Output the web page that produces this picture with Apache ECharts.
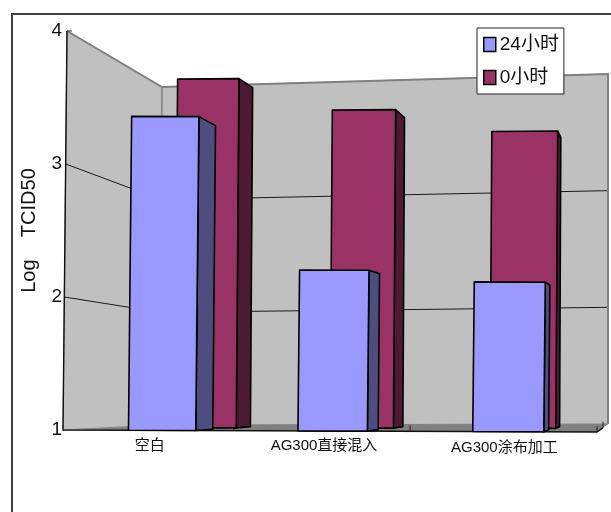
<!DOCTYPE html>
<html>
<head>
<meta charset="utf-8">
<style>html,body{margin:0;padding:0;background:#fff}#c{width:611px;height:512px}</style>
<script src="https://cdn.jsdelivr.net/npm/echarts@6/dist/echarts.min.js"></script>
</head>
<body>
<div id="c"></div>
<script>
// ---- data ----
const categories = ['空白', 'AG300直接混入', 'AG300涂布加工'];
const valueTicks = [1, 2, 3, 4];
const seriesNames = ['24小时', '0小时'];
const values24h = [3.36, 2.21, 2.125];
const values0h = [3.81, 3.55, 3.37];

// ---- layout of the 3D box (pixel corners of the front plane and back wall) ----
const FLT = [67, 31], FLB = [63, 430], FRT = [601, 33], FRB = [597, 432];
const BLT = [162, 87], BLB = [160, 425], BRT = [608, 74], BRB = [608, 424];
const BLUE_LAYOUT = { shift: [0.019, 0.005, 0.0005], width: [0.126, 0.13, 0.133], z0: 0, z1: [0.225, 0.225, 0.25] };
const RED_LAYOUT = { shift: [0.033, 0.015, 0.007], width: [0.124, 0.128, 0.133], z0: 0.45, z1: [0.64, 0.65, 0.65] };
const FONT = '"Liberation Sans","Noto Sans CJK SC",sans-serif';

const lerp = (a, b, t) => [a[0] + (b[0] - a[0]) * t, a[1] + (b[1] - a[1]) * t];
function P(u, w, z) {
  const front = lerp(lerp(FLB, FRB, u), lerp(FLT, FRT, u), w);
  const back = lerp(lerp(BLB, BRB, u), lerp(BLT, BRT, u), w);
  return lerp(front, back, z);
}
function barRender(layout, color, sideColor) {
  return function (params, api) {
    const cs = api.coordSys ? api.coordSys() : params.coordSys;
    const i = api.value(0);
    const top = api.coord([i, api.value(1)]);
    const base = api.coord([i, valueTicks[0]]);
    const uc = (top[0] - cs.x) / cs.width + layout.shift[i];
    const hw = layout.width[i] / 2;
    const wt = (cs.y + cs.height - top[1]) / cs.height;
    const wb = (cs.y + cs.height - base[1]) / cs.height;
    const u0 = uc - hw, u1 = uc + hw, z0 = layout.z0, z1 = layout.z1[i];
    const edge = { stroke: '#000', lineWidth: 1.6, lineJoin: 'round' };
    return {
      type: 'group',
      children: [
        { type: 'polygon', shape: { points: [P(u1, wt, z0), P(u1, wt, z1), P(u1, wb, z1), P(u1, wb, z0)] },
          style: Object.assign({ fill: sideColor }, edge) },
        { type: 'polygon', shape: { points: [P(u0, wt, z0), P(u1, wt, z0), P(u1, wb, z0), P(u0, wb, z0)] },
          style: Object.assign({ fill: color }, edge) }
      ]
    };
  };
}
function wallRender(params, api) {
  const cs = api.coordSys ? api.coordSys() : params.coordSys;
  const kids = [];
  const wall = { fill: '#c0c0c0', stroke: '#808080', lineWidth: 1 };
  kids.push({ type: 'polygon', shape: { points: [P(0, 1, 0), P(0, 1, 1), P(0, 0, 1), P(0, 0, 0)] }, style: wall });
  kids.push({ type: 'polygon', shape: { points: [P(0, 1, 1), P(1, 1, 1), P(1, 0, 1), P(0, 0, 1)] }, style: wall });
  kids.push({ type: 'polygon', shape: { points: [P(0, 0, 0), P(0, 0, 1), P(1, 0, 1), P(1, 0, 0)] }, style: { fill: '#808080' } });
  valueTicks.forEach(function (t) {
    const c = api.coord([0, t]);
    const w = (cs.y + cs.height - c[1]) / cs.height;
    if (w > 0 && w < 1) {
      kids.push({ type: 'polyline', shape: { points: [P(0, w, 0), P(0, w, 1), P(1, w, 1)] },
        style: { fill: 'none', stroke: '#1a1a1a', lineWidth: 1 } });
    }
  });
  // top edge of the walls in grey
  kids.push({ type: 'polyline', shape: { points: [P(0, 1, 0), P(0, 1, 1), P(1, 1, 1), P(1, 0, 1)] },
    style: { fill: 'none', stroke: '#808080', lineWidth: 2 } });
  kids.push({ type: 'line', shape: { x1: P(0, 1, 1)[0], y1: P(0, 1, 1)[1], x2: P(0, 0, 1)[0], y2: P(0, 0, 1)[1] },
    style: { stroke: '#8c8c8c', lineWidth: 1.5 } });
  // front axis lines
  kids.push({ type: 'polyline', shape: { points: [P(0, 1, 0), P(0, 0, 0), P(1, 0, 0), P(1, 0, 0.55)] },
    style: { fill: 'none', stroke: '#111', lineWidth: 1.4 } });
  kids.push({ type: 'line', shape: { x1: P(0, 1, 0)[0], y1: P(0, 1, 0)[1], x2: P(0, 1, 0)[0] + 5, y2: P(0, 1, 0)[1] },
    style: { stroke: '#333', lineWidth: 1 } });
  // category ticks
  [0.32, 0.65, 1].forEach(function (u) {
    const p = P(u, 0, 0);
    kids.push({ type: 'line', shape: { x1: p[0], y1: p[1], x2: p[0], y2: p[1] - 6 }, style: { stroke: '#222', lineWidth: 1 } });
  });
  const q = P(1, 0, 0.55);
  kids.push({ type: 'line', shape: { x1: q[0], y1: q[1], x2: q[0], y2: q[1] - 6 }, style: { stroke: '#222', lineWidth: 1 } });
  return { type: 'group', children: kids };
}
const toPairs = arr => arr.map((v, i) => [i, v]);

const chart = echarts.init(document.getElementById('c'), null, { renderer: 'canvas' });
chart.setOption({
  animation: false,
  backgroundColor: '#fff',
  grid: { left: 65, top: 31, width: 532, height: 399, containLabel: false },
  graphic: [{
    type: 'polyline', silent: true,
    shape: { points: [[12, 512], [12, 14], [611, 14]] },
    style: { fill: 'none', stroke: '#404040', lineWidth: 2 }
  }],
  legend: {
    orient: 'vertical', left: 477, top: 28, padding: [7, 5, 7, 6], itemGap: 14,
    backgroundColor: '#fff', borderColor: '#222', borderWidth: 1, borderRadius: 0,
    itemWidth: 12, itemHeight: 14, icon: 'rect',
    itemStyle: { borderColor: '#000', borderWidth: 1.5 },
    textStyle: { fontFamily: FONT, fontSize: 19, color: '#111', padding: [0, 0, 0, -1] },
    data: seriesNames
  },
  xAxis: {
    type: 'category', data: categories,
    axisLine: { show: false }, axisTick: { show: false }, splitLine: { show: false },
    axisLabel: {
      interval: 0, margin: 8, hideOverlap: false,
      formatter: (v, i) => '{l' + i + '|' + v + '}',
      rich: {
        l0: { fontFamily: FONT, fontSize: 15, color: '#111', padding: [0, 8, 0, 0] },
        l1: { fontFamily: FONT, fontSize: 15, color: '#111', padding: [0, 14, 0, 0] },
        l2: { fontFamily: FONT, fontSize: 15, color: '#111', padding: [2, 8, 0, 0] }
      }
    }
  },
  yAxis: {
    type: 'value', min: 1, max: 4, interval: 1,
    name: 'Log    TCID50', nameLocation: 'middle', nameRotate: 90, nameGap: 26,
    nameTextStyle: { fontFamily: FONT, fontSize: 20, color: '#111' },
    axisLine: { show: false }, axisTick: { show: false }, splitLine: { show: false },
    axisLabel: { fontFamily: FONT, fontSize: 19, color: '#111', margin: 3 }
  },
  series: [
    { type: 'custom', name: 'walls', z: 1, silent: true, data: [[0, valueTicks[0]]],
      encode: { x: 0, y: 1 }, renderItem: wallRender, tooltip: { show: false } },
    { type: 'custom', name: seriesNames[1], z: 2, data: toPairs(values0h), encode: { x: 0, y: 1 },
      itemStyle: { color: '#993366' }, renderItem: barRender(RED_LAYOUT, '#993366', '#4d1933') },
    { type: 'custom', name: seriesNames[0], z: 3, data: toPairs(values24h), encode: { x: 0, y: 1 },
      itemStyle: { color: '#9999ff' }, renderItem: barRender(BLUE_LAYOUT, '#9999ff', '#4d4d80') }
  ]
});
</script>
</body>
</html>
